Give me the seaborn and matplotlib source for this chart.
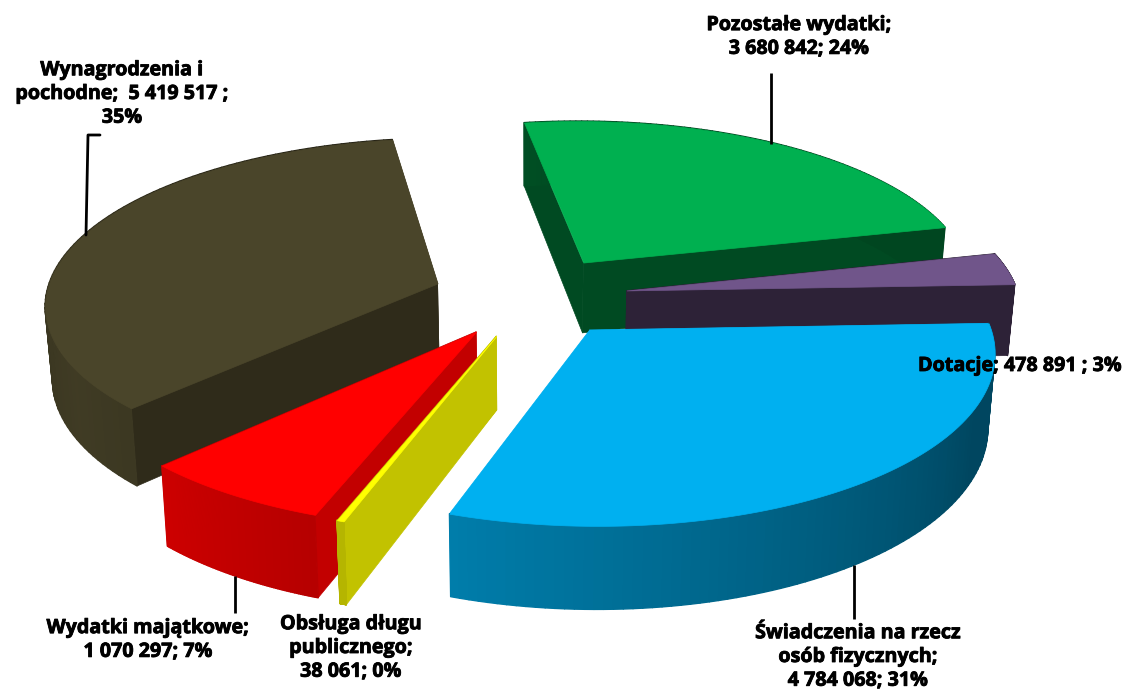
import matplotlib

matplotlib.use("Agg", force=True)

import matplotlib.pyplot as plt
import matplotlib.patheffects as pe
import numpy as np
import seaborn as sns
from matplotlib.collections import PolyCollection

# clockwise from the top edge of the green slice
categories = [
    "Pozostałe wydatki",
    "Dotacje",
    "Świadczenia na rzecz osób fizycznych",
    "Obsługa długu publicznego",
    "Wydatki majątkowe",
    "Wynagrodzenia i pochodne",
]
values = [3680842, 478891, 4784068, 38061, 1070297, 5419517]
labels = [
    "Pozostałe wydatki;\n3 680 842; 24%",
    "Dotacje; 478 891 ; 3%",
    "Świadczenia na rzecz\nosób fizycznych;\n4 784 068; 31%",
    "Obsługa długu\npublicznego;\n38 061; 0%",
    "Wydatki majątkowe;\n1 070 297; 7%",
    "Wynagrodzenia i\npochodne;  5 419 517 ;\n35%",
]
top_colors = ["#00B050", "#70558A", "#00B0F0", "#FFFF00", "#FF0000", "#4A452A"]
face_shade = [0.42, 0.4, 1.0, 0.76, 0.76, 0.63]
draw_order = [5, 0, 1, 2, 4, 3]

START = 99.0
EXPLODE = 0.25
CX, CY = 530, 296
RX, RY, PERSP, DEPTH = 392, 165, 0.115, 72


def project(x, y, z=0.0):
    w = 1 / (1 + PERSP * y)
    return np.column_stack([CX + RX * x * w * (1 - 0.015 * z), CY - RY * y * w + z * DEPTH * w])


def wall_shade(theta):
    d = np.abs((theta + 150 + 180) % 360 - 180)
    return np.clip(0.86 - 0.0037 * d, 0.4, 0.9)


def draw_slice(ax, t1, t2, color, shade):
    rgb = np.array(matplotlib.colors.to_rgb(color))
    mid = np.radians((t1 + t2) / 2)
    ox, oy = EXPLODE * np.cos(mid), EXPLODE * np.sin(mid)
    th = np.radians(np.linspace(t1, t2, 90))
    ex, ey = ox + np.cos(th), oy + np.sin(th)

    # radial cut faces
    face = []
    for a in (th[0], th[-1]):
        ax_, ay_ = ox + np.cos(a), oy + np.sin(a)
        xs, ys = np.array([ox, ax_]), np.array([oy, ay_])
        face.append(np.vstack([project(xs, ys), project(xs[::-1], ys[::-1], 1.0)]))
    ax.add_collection(PolyCollection(face, facecolors=[rgb * shade], edgecolors=[rgb * shade], linewidths=0.5))

    # outer wall, shaded along the arc
    up, down = project(ex, ey), project(ex, ey, 1.0)
    quads = [np.array([up[i], up[i + 1], down[i + 1], down[i]]) for i in range(len(th) - 1)]
    cols = [np.clip(rgb * wall_shade(np.degrees(a)), 0, 1) for a in th[:-1]]
    ax.add_collection(PolyCollection(quads, facecolors=cols, edgecolors=cols, linewidths=1.0))

    # top
    top = np.vstack([project(np.array([ox]), np.array([oy])), up])
    ax.add_collection(PolyCollection([top], facecolors=[rgb], edgecolors=[rgb], linewidths=0.5))


sns.set_theme(style="white")
plt.rcParams["font.family"] = ["Open Sans", "DejaVu Sans"]

fig = plt.figure(figsize=(11.3, 6.93), dpi=100)
ax = fig.add_axes([0, 0, 1, 1])
ax.set_xlim(0, 1130)
ax.set_ylim(693, 0)
ax.axis("off")

shares = np.array(values) / np.sum(values) * 360
ends = START - np.cumsum(shares)
starts = ends + shares
for i in draw_order:
    draw_slice(ax, ends[i], starts[i], top_colors[i], face_shade[i])

# leader lines
ax.plot([771, 771], [73, 144], color="black", lw=2, solid_capstyle="butt")
ax.plot([100, 88, 86], [135, 135, 235], color="black", lw=2)
ax.plot([235, 235], [576, 613], color="black", lw=2, solid_capstyle="butt")
ax.plot([854, 854], [565, 619], color="black", lw=2, solid_capstyle="butt")

label_pos = [(799, 37), (1020, 366), (858, 657), (351, 648), (148, 640), (122, 94)]
for text, (x, y) in zip(labels, label_pos):
    ax.text(x, y, text, ha="center", va="center", fontsize=14.2, fontweight="bold",
            color="black", linespacing=1.25,
            path_effects=[pe.withStroke(linewidth=0.6, foreground="black")])

fig.savefig("out.png", dpi=100)
